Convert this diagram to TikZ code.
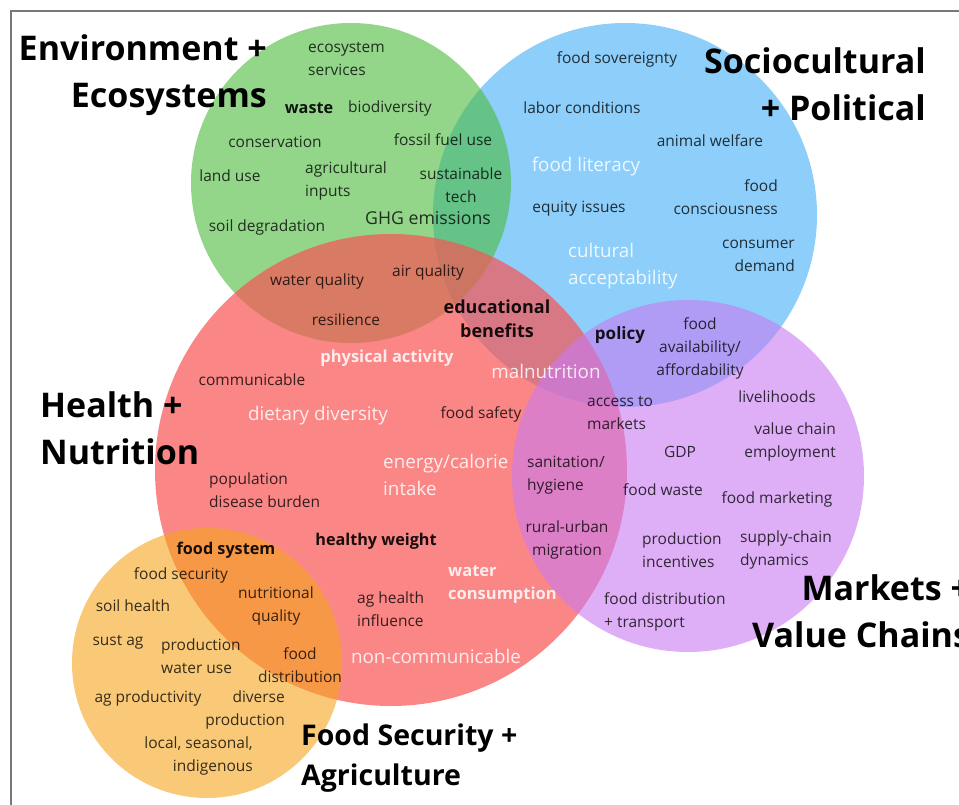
\documentclass[tikz,border=0pt]{standalone}
\usepackage{fontspec}
\setmainfont{Open Sans}
\definecolor{cgreen}{RGB}{75,187,60}
\definecolor{cblue}{RGB}{65,175,247}
\definecolor{cred}{RGB}{248,84,84}
\definecolor{cpurple}{RGB}{200,123,243}
\definecolor{corange}{RGB}{245,165,30}
\definecolor{framegray}{RGB}{120,120,120}
\tikzset{
  blob/.style={circle, draw=none, fill opacity=0.6, inner sep=0pt},
  lbl/.style={font=\fontsize{15.5}{23}\selectfont, text=black, text opacity=0.78, inner sep=0pt, align=center, yshift=-2pt},
  lblb/.style={lbl, font=\bfseries\fontsize{16.2}{24}\selectfont, text opacity=0.9},
  lblw/.style={font=\fontsize{18.8}{27}\selectfont, text=white, text opacity=0.85, inner sep=0pt, align=center, yshift=-2pt},
  lblwb/.style={lblw, font=\bfseries\fontsize{16.5}{23}\selectfont},
  ttl/.style={font=\bfseries\fontsize{34}{47}\selectfont, text=black, inner sep=0pt}
}
\begin{document}
\begin{tikzpicture}[x=1pt,y=-1pt]
\useasboundingbox (0,0) rectangle (959,805);
\clip (0,0) rectangle (959,805);
\fill[white] (0,0) rectangle (959,805);
\draw[framegray, line width=1.2pt] (11,830) -- (11,11) -- (990,11);
% circles (order: blue, green, red, purple, orange)
\node[blob, fill=cblue, minimum size=384pt] (blue) at (625,215) {};
\node[blob, fill=cgreen, minimum size=320pt] (green) at (351,183) {};
\node[blob, fill=cred, fill opacity=0.7, minimum size=472pt] (red) at (391,470) {};
\node[blob, fill=cpurple, minimum size=352pt] (purple) at (688,476) {};
\node[blob, fill=corange, minimum size=270pt] (orange) at (207,663) {};
% titles
\node[ttl, align=right, anchor=east] (tEnv) at (267,75) {Environment +\\Ecosystems};
\node[ttl, align=right, anchor=east] (tSoc) at (926,84) {Sociocultural\\+ Political};
\node[ttl, align=left, anchor=west] (tHea) at (40,428) {Health +\\Nutrition};
\node[ttl, align=right, anchor=west] (tMar) at (752,611) {Markets +\\Value Chains};
\node[ttl, font=\bfseries\fontsize{28.5}{40}\selectfont, align=left, anchor=west] (tFoo) at (301,758) {Food Security +\\Agriculture};
% green labels
\node[lbl, align=left, anchor=west] (g1) at (308,57) {ecosystem\\services};
\node[lblb] (g2) at (309,106) {waste};
\node[lbl] (g3) at (390,106) {biodiversity};
\node[lbl] (g4) at (275,140) {conservation};
\node[lbl] (g5) at (443,138) {fossil fuel use};
\node[lbl] (g6) at (230,174) {land use};
\node[lbl, align=left, anchor=west] (g7) at (305,179) {agricultural\\inputs};
\node[lbl] (g8) at (461,183) {sustainable\\tech};
\node[lbl] (g9) at (267,225) {soil degradation};
\node[lbl, font=\fontsize{17.7}{23}\selectfont] (g10) at (428,216) {GHG emissions};
\node[lbl] (g11) at (317,279) {water quality};
\node[lbl] (g12) at (428,270) {air quality};
\node[lbl] (g13) at (346,318) {resilience};
% blue labels
\node[lbl] (b1) at (617,57) {food sovereignty};
\node[lbl] (b2) at (582,106) {labor conditions};
\node[lbl] (b3) at (710,139) {animal welfare};
\node[lblw] (b4) at (586,165) {food literacy};
\node[lbl, align=right, anchor=east] (b5) at (778,195) {food\\consciousness};
\node[lbl] (b6) at (579,207) {equity issues};
\node[lblw, align=left, anchor=west] (b7) at (568,264) {cultural\\acceptability};
\node[lbl, align=right, anchor=east] (b8) at (795,254) {consumer\\demand};
% red labels
\node[lblb, font=\bfseries\fontsize{18}{24}\selectfont] (r1) at (497,317) {educational\\benefits};
\node[lblwb] (r2) at (387,356) {physical activity};
\node[lbl] (r3) at (252,378) {communicable};
\node[lblw] (r4) at (546,369) {malnutrition};
\node[lblw] (r5) at (318,414) {dietary diversity};
\node[lbl] (r6) at (481,412) {food safety};
\node[lblw, align=left, anchor=west] (r7) at (383,473) {energy/calorie\\intake};
\node[lbl, align=left, anchor=west] (r8) at (209,488) {population\\disease burden};
\node[lblb] (r9) at (376,539) {healthy weight};
\node[lblwb, align=left, anchor=west] (r10) at (448,583) {water\\consumption};
\node[lbl, align=left, anchor=west] (r11) at (357,607) {ag health\\influence};
\node[lblw] (r12) at (436,654) {non-communicable};
% purple labels
\node[lblb, font=\bfseries\fontsize{17}{24}\selectfont] (p1) at (620,333) {policy};
\node[lbl] (p2) at (700,346) {food\\availability/\\affordability};
\node[lbl, align=left, anchor=west] (p3) at (587,411) {access to\\markets};
\node[lbl] (p4) at (777,395) {livelihoods};
\node[lbl, align=right, anchor=east] (p5) at (836,440) {value chain\\employment};
\node[lbl] (p6) at (680,450) {GDP};
\node[lbl, align=left, anchor=west] (p7) at (527,473) {sanitation/\\hygiene};
\node[lbl] (p8) at (663,488) {food waste};
\node[lbl] (p9) at (777,497) {food marketing};
\node[lbl] (p10) at (567,538) {rural-urban\\migration};
\node[lbl, align=left, anchor=west] (p11) at (642,548) {production\\incentives};
\node[lbl, align=left, anchor=west] (p12) at (740,548) {supply-chain\\dynamics};
\node[lbl, align=left, anchor=west] (p13) at (604,610) {food distribution\\+ transport};
% orange labels
\node[lblb] (o1) at (226,548) {food system};
\node[lbl] (o2) at (181,573) {food security};
\node[lbl] (o3) at (133,604) {soil health};
\node[lbl] (o4) at (276,604) {nutritional\\quality};
\node[lbl] (o5) at (118,640) {sust ag};
\node[lbl, align=left, anchor=west] (o6) at (161,654) {production\\water use};
\node[lbl] (o7) at (300,663) {food\\distribution};
\node[lbl] (o8) at (148,696) {ag productivity};
\node[lbl, align=right, anchor=east] (o9) at (285,708) {diverse\\production};
\node[lbl, align=right, anchor=east] (o10) at (253,754) {local, seasonal,\\indigenous};
\end{tikzpicture}
\end{document}
